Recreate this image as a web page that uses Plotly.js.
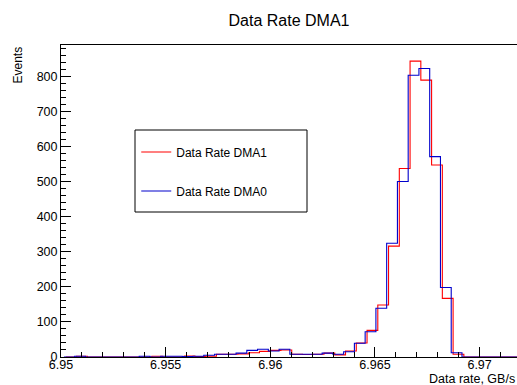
<!DOCTYPE html>
<html>
<head>
<meta charset="utf-8">
<script src="https://cdn.plot.ly/plotly-3.0.1.min.js"></script>
<style>html,body{margin:0;padding:0;background:#fff;}#chart{width:517px;height:385px;}</style>
</head>
<body>
<div id="chart"></div>
<script>
// ---- data ----
const chartTitle = "Data Rate DMA1";
const xTitle = "Data rate, GB/s";
const yTitle = "Events";
const seriesNames = ["Data Rate DMA1", "Data Rate DMA0"];
const binWidth = 0.000514;
const dma1Start = 6.95023;
const dma0Start = 6.95014;
const dma1Counts = [0,2,0,0,0,0,0,0,2,0,0,3,1,2,8,8,9,12,16,19,20,8,7,8,11,6,17,40,76,148,316,537,843,789,547,167,8,0,0,0,0,0,0];
const dma0Counts = [0,2,0,0,0,0,0,2,0,2,2,1,2,5,8,8,11,19,22,17,22,8,8,8,11,8,15,39,72,139,324,500,803,822,571,198,12,0,0,0,0,0,0];
const xTickVals = [6.95, 6.955, 6.96, 6.965, 6.97];
const xTickText = ["6.95", "6.955", "6.96", "6.965", "6.97"];
const yTickVals = [0,100,200,300,400,500,600,700,800];

function stepXY(start, counts) {
  const xs = [], ys = [];
  for (let i = 0; i < counts.length; i++) { xs.push(start + i * binWidth); ys.push(counts[i]); }
  xs.push(start + counts.length * binWidth); ys.push(counts[counts.length - 1]);
  return {xs, ys};
}
const s1 = stepXY(dma1Start, dma1Counts);
const s0 = stepXY(dma0Start, dma0Counts);

const font = "Liberation Sans, Arial, Helvetica, sans-serif";
const traces = [
  {x: s1.xs, y: s1.ys, type: "scatter", mode: "lines", name: seriesNames[0], legendgroup: "a",
   line: {shape: "hv", color: "#ff0000", width: 1.1}},
  {x: s0.xs, y: s0.ys, type: "scatter", mode: "lines", name: seriesNames[1], legendgroup: "b",
   line: {shape: "hv", color: "#0000cc", width: 1.1}}
];

const layout = {
  width: 517, height: 385,
  margin: {l: 61, r: 0, t: 45, b: 28, pad: 0},
  paper_bgcolor: "#fff", plot_bgcolor: "#fff",
  font: {family: font, size: 12, color: "#000"},
  title: {text: chartTitle, font: {family: font, size: 16, color: "#000"},
          xref: "container", yref: "container", x: 0.559, xanchor: "center", y: 0.948, yanchor: "middle"},
  showlegend: true,
  legend: {x: 0.165, y: 0.7035, xanchor: "left", yanchor: "top", bgcolor: "rgba(0,0,0,0)",
           borderwidth: 0, font: {family: font, size: 12, color: "#000"},
           itemwidth: 30, tracegroupgap: 20, traceorder: "grouped"},
  xaxis: {range: [6.95, 6.95 + 456 / 20930], showgrid: false, zeroline: false,
          showline: true, linecolor: "#000", linewidth: 1, mirror: true,
          ticks: "inside", ticklen: 10, tickcolor: "#000", tickwidth: 1,
          tickvals: xTickVals, ticktext: xTickText, ticklabelstandoff: -4,
          minor: {dtick: 0.001, tick0: 6.95, ticks: "inside", ticklen: 5, tickcolor: "#000", tickwidth: 1, showgrid: false},
          tickfont: {family: font, size: 12.5, color: "#000"}},
  yaxis: {range: [0, 889], showgrid: false, zeroline: false,
          showline: true, linecolor: "#000", linewidth: 1, mirror: false,
          ticks: "inside", ticklen: 10, tickcolor: "#000", tickwidth: 1,
          tickvals: yTickVals,
          minor: {dtick: 20, tick0: 0, ticks: "inside", ticklen: 5, tickcolor: "#000", tickwidth: 1, showgrid: false},
          tickfont: {family: font, size: 12.5, color: "#000"}},
  shapes: [
    {type: "rect", xref: "paper", yref: "paper", x0: 74/456, x1: 246/456, y0: (357-212)/312, y1: (357-130)/312,
     line: {color: "#000", width: 1}, fillcolor: "rgba(0,0,0,0)", layer: "below"}
  ],
  annotations: [
    {text: xTitle, xref: "paper", yref: "paper", x: 1, xanchor: "right", y: -0.043, yanchor: "top",
     showarrow: false, font: {family: font, size: 12.5, color: "#000"}},
    {text: yTitle, xref: "paper", yref: "paper", x: -44/456, xanchor: "center", y: 1, yanchor: "top",
     textangle: -90, showarrow: false, font: {family: font, size: 12, color: "#000"}}
  ]
};
Plotly.newPlot("chart", traces, layout, {staticPlot: true, displayModeBar: false});
</script>
</body>
</html>
